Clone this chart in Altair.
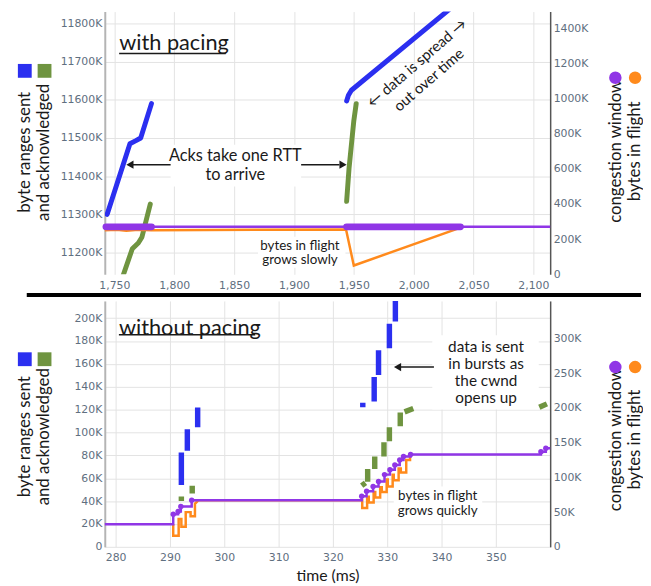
import altair as alt
import pandas as pd

BLUE = "#2b2ff0"
GREEN = "#6f9440"
PURPLE = "#9036e6"
ORANGE = "#ff8a1c"
GRID = "#e3e3e3"
LABEL = "#5f6f80"
INK = "#1a1a1a"

# ---------------- top panel: with pacing ----------------
top_x_domain = [1742, 2114]
top_x_ticks = [1750, 1800, 1850, 1900, 1950, 2000, 2050, 2100]
top_left_domain = [11143, 11831]
top_left_ticks = [11200, 11300, 11400, 11500, 11600, 11700, 11800]
top_right_domain = [0, 1495]
top_right_ticks = [0, 200, 400, 600, 800, 1000, 1200, 1400]

top_sent_burst = [1, 1, 1, 1, 1, 2, 2, 2, 2]
top_sent_t = [1744, 1763, 1768, 1772, 1781, 1944, 1945.5, 1948, 2031]
top_sent_v = [11300, 11485, 11493, 11500, 11590, 11597, 11612, 11625, 11840]

top_ack_burst = [1, 1, 1, 1, 1, 2, 2, 2, 2]
top_ack_t = [1757, 1765, 1770, 1773, 1780, 1944, 1946, 1950, 1952]
top_ack_v = [11137, 11210, 11225, 11240, 11327, 11334, 11420, 11545, 11590]

top_cwnd_t = [1742, 2114]
top_cwnd_v = [270, 270]
top_cwnd_dense_t0 = [1743, 1944]
top_cwnd_dense_t1 = [1781, 2039]
top_cwnd_dense_v = [270, 270]

top_bif_t = [1742, 1752, 1760, 1770, 1781, 1943.5, 1950, 2038]
top_bif_v = [250, 254, 248, 253, 251, 255, 50, 263]

top_title = "with pacing"
top_title_t, top_title_v = 1754, 11748
top_underline = (1754, 1843, 11721)
top_note_text = ["Acks take one RTT", "to arrive"]
top_note_t = [1851, 1851]
top_note_v = [11453, 11402]
top_note2_text = ["bytes in flight", "grows slowly"]
top_note2_t = [1905, 1905]
top_note2_v = [11218, 11179]
top_spread_text = ["\u2190 data is spread \u2192", "out over time"]
top_spread_t = [2002.7, 2012.6]
top_spread_v = [11696, 11652]
top_box_t0 = [1797, 1870]
top_box_t1 = [1906, 1943]
top_box_v0 = [11373, 11160]
top_box_v1 = [11482, 11241]
top_arrow_t0 = [1797, 1906]
top_arrow_t1 = [1765, 1938]
top_arrow_v = [11430, 11430]
top_head_t = [1763, 1941]
top_head_shape = ["triangle-left", "triangle-right"]

# ---------------- bottom panel: without pacing ----------------
bot_x_domain = [278, 360]
bot_x_ticks = [280, 290, 300, 310, 320, 330, 340, 350]
bot_left_domain = [0, 215]
bot_left_ticks = [0, 20, 40, 60, 80, 100, 120, 140, 160, 180, 200]
bot_right_domain = [0, 354]
bot_right_ticks = [0, 50, 100, 150, 200, 250, 300]

bot_sent_t0 = [292.1, 293.2, 295.1, 325.5, 327.6, 328.4, 330.4, 331.5]
bot_sent_t1 = [292.1, 293.2, 295.1, 325.5, 327.6, 328.4, 330.4, 331.5]
bot_sent_v0 = [54, 84, 104.5, 122, 127, 150.3, 173.6, 197]
bot_sent_v1 = [82.6, 102.8, 121.8, 126, 148.5, 171.8, 195, 222]

bot_ack_t0 = [292.1, 294.1, 325.3, 326.4, 327.7, 329.4, 330.4, 332.4, 333.2, 358.0]
bot_ack_t1 = [292.1, 294.1, 326.0, 326.4, 327.7, 329.4, 330.4, 332.4, 334.8, 359.4]
bot_ack_v0 = [40, 46.6, 53.5, 57, 68, 79, 92.4, 105.4, 118, 122]
bot_ack_v1 = [44, 53.5, 56, 68, 79, 91.5, 104.5, 117.4, 121, 125]

bot_cwnd_t = [278, 290.6, 291.5, 292.0, 294.0, 325.3, 326.2, 327.4, 328.4, 329.5,
              330.5, 331.4, 332.3, 333.0, 334.3, 358.3, 359.2, 360]
bot_cwnd_v = [32.7, 47, 51, 58, 67, 73, 80, 87, 94, 104,
              111, 118, 125, 130, 133, 137, 142, 142]

bot_bif_t = [290.6, 290.6, 291.6, 291.6, 292.1, 292.1, 292.9, 292.9, 293.8, 293.8,
             294.6, 294.6, 295.2,
             325.4, 325.4, 326.3, 326.3, 326.6, 326.6, 327.5, 327.5, 327.8, 327.8,
             328.7, 328.7, 329.0, 329.0, 329.9, 329.9, 330.1, 330.1, 331.0, 331.0,
             331.2, 331.2, 332.1, 332.1, 332.5, 332.5, 333.5, 333.5, 334.2, 334.2]
bot_bif_v = [33, 16, 16, 40, 40, 29, 29, 50, 50, 44,
             44, 62, 67,
             67, 56, 56, 72, 72, 64, 64, 79, 79, 71,
             71, 86, 86, 79, 79, 97, 97, 87, 87, 104,
             104, 96, 96, 113, 113, 107, 107, 125, 125, 133]

bot_title = "without pacing"
bot_title_t, bot_title_v = 280.6, 191.7
bot_underline = (280.6, 305.7, 185.4)
bot_note_text = ["data is sent", "in bursts as", "the cwnd", "opens up"]
bot_note_t = [348.2, 348.2, 348.2, 348.2]
bot_note_v = [174.4, 159.8, 145, 130.4]
bot_note2_text = ["bytes in flight", "grows quickly"]
bot_note2_t = [339.3, 339.3]
bot_note2_v = [44, 31]
bot_box_t0 = [338.3, 331.2]
bot_box_t1 = [357.9, 347.5]
bot_box_v0 = [120, 24.2]
bot_box_v1 = [185, 52.7]
bot_arrow_t0 = [338.6]
bot_arrow_t1 = [332.4]
bot_arrow_v = [157.2]
bot_head_t = [331.9]
bot_head_shape = ["triangle-left"]

LEFT_TITLE = ["byte ranges sent", "and acknowledged"]
RIGHT_TITLE = ["congestion window", "bytes in flight"]
W = 451


def xenc(domain, ticks, title, field="t"):
    kw = dict(values=ticks, format=",.0f", grid=True, gridColor=GRID, domain=False, ticks=False,
              labelFont="DejaVu Sans", labelFontSize=11, labelColor=LABEL, labelPadding=5)
    if title:
        kw.update(title=title, titleFont="Lato", titleFontSize=16, titleFontWeight="normal",
                  titleColor=INK, titlePadding=5)
    else:
        kw.update(title=None)
    return alt.X(f"{field}:Q", scale=alt.Scale(domain=domain, nice=False, zero=False),
                 axis=alt.Axis(**kw))


def yleft(domain, ticks, ty):
    return alt.Y("v:Q", scale=alt.Scale(domain=domain, nice=False, zero=False),
                 axis=alt.Axis(orient="left", values=ticks,
                               labelExpr="datum.value == 0 ? '0' : datum.value + 'K'",
                               grid=True, gridColor=GRID, domainColor="#b4b4b4", domainWidth=2,
                               ticks=False, labelFont="DejaVu Sans", labelFontSize=11,
                               labelColor=LABEL, labelPadding=3, title=LEFT_TITLE,
                               titleFont="Lato", titleFontSize=17, titleFontWeight="normal",
                               titleColor=INK, titleAngle=270, titleX=-81, titleY=ty,
                               titleAlign="center", titleBaseline="middle", titleLineHeight=19))


def yright(domain, ticks, ty):
    return alt.Y("v:Q", scale=alt.Scale(domain=domain, nice=False, zero=False),
                 axis=alt.Axis(orient="right", values=ticks,
                               labelExpr="datum.value == 0 ? '0' : datum.value + 'K'",
                               grid=False, domainColor="#555555", domainWidth=1.5,
                               ticks=False, labelFont="DejaVu Sans", labelFontSize=11,
                               labelColor=LABEL, labelPadding=3, title=RIGHT_TITLE,
                               titleFont="Lato", titleFontSize=17, titleFontWeight="normal",
                               titleColor=INK, titleAngle=270, titleX=66, titleY=ty,
                               titleAlign="center", titleBaseline="middle", titleLineHeight=19))


one = pd.DataFrame({"k": [0]})


def legend_marks(sq_y, ci_y):
    s1 = alt.Chart(one).mark_square(size=196, color=BLUE, opacity=1).encode(
        x=alt.value(-81), y=alt.value(sq_y))
    s2 = alt.Chart(one).mark_square(size=196, color=GREEN, opacity=1).encode(
        x=alt.value(-61), y=alt.value(sq_y))
    c1 = alt.Chart(one).mark_circle(size=160, color=PURPLE, opacity=1).encode(
        x=alt.value(W + 66), y=alt.value(ci_y))
    c2 = alt.Chart(one).mark_circle(size=160, color=ORANGE, opacity=1).encode(
        x=alt.value(W + 86), y=alt.value(ci_y))
    return [s1, s2, c1, c2]


def annotations(X, YL, title, title_t, title_v, underline, boxes, notes, arrows, heads):
    layers = []
    bt0, bt1, bv0, bv1 = boxes
    box_df = pd.DataFrame({"t": bt0, "t2": bt1, "v": bv0, "v2": bv1})
    layers.append(alt.Chart(box_df).mark_rect(color="white").encode(
        x=X, x2="t2:Q", y=YL, y2="v2:Q"))
    tdf = pd.DataFrame({"t": [title_t], "v": [title_v], "label": [title]})
    layers.append(alt.Chart(tdf).mark_text(font="Lato", fontSize=22, color=INK, align="left",
                                           baseline="middle").encode(x=X, y=YL, text="label:N"))
    udf = pd.DataFrame({"t": [underline[0]], "t2": [underline[1]], "v": [underline[2]]})
    layers.append(alt.Chart(udf).mark_rule(color=INK, strokeWidth=1.5).encode(
        x=X, x2="t2:Q", y=YL))
    for texts, ts, vs, size, angle in notes:
        ndf = pd.DataFrame({"t": ts, "v": vs, "label": texts})
        layers.append(alt.Chart(ndf).mark_text(font="Lato", fontSize=size, color=INK,
                                               align="center", baseline="middle",
                                               angle=angle).encode(x=X, y=YL, text="label:N"))
    at0, at1, av = arrows
    adf = pd.DataFrame({"t": at0, "t2": at1, "v": av})
    layers.append(alt.Chart(adf).mark_rule(color=INK, strokeWidth=1.5).encode(
        x=X, x2="t2:Q", y=YL))
    ht, hv, hs = heads
    hdf = pd.DataFrame({"t": ht, "v": hv, "shape": hs})
    layers.append(alt.Chart(hdf).mark_point(filled=True, color=INK, size=70, opacity=1).encode(
        x=X, y=YL, shape=alt.Shape("shape:N", scale=None)))
    return layers


# ---------------- build top ----------------
Xt = xenc(top_x_domain, top_x_ticks, None)
Xt2 = alt.X2("t2:Q")
YLt = yleft(top_left_domain, top_left_ticks, 142)
YRt = yright(top_right_domain, top_right_ticks, 141)

top_sent = pd.DataFrame({"t": top_sent_t, "v": top_sent_v, "b": top_sent_burst,
                         "i": range(len(top_sent_t))})
top_ack = pd.DataFrame({"t": top_ack_t, "v": top_ack_v, "b": top_ack_burst,
                        "i": range(len(top_ack_t))})

top_left = alt.layer(
    *annotations(Xt, YLt, top_title, top_title_t, top_title_v, top_underline,
                 (top_box_t0, top_box_t1, top_box_v0, top_box_v1),
                 [(top_note_text, top_note_t, top_note_v, 16.5, 0),
                  (top_note2_text, top_note2_t, top_note2_v, 13.5, 0),
                  (top_spread_text, top_spread_t, top_spread_v, 15, 319)],
                 (top_arrow_t0, top_arrow_t1, top_arrow_v),
                 (top_head_t, top_arrow_v, top_head_shape)),
    alt.Chart(top_sent).mark_line(color=BLUE, strokeWidth=5, strokeCap="round",
                                  strokeJoin="round", clip=True).encode(
        x=Xt, y=YLt, detail="b:N", order="i:Q"),
    alt.Chart(top_ack).mark_line(color=GREEN, strokeWidth=5, strokeCap="round",
                                 strokeJoin="round", clip=True).encode(
        x=Xt, y=YLt, detail="b:N", order="i:Q"),
    *legend_marks(60, 67),
)

top_bif = pd.DataFrame({"t": top_bif_t, "v": top_bif_v, "i": range(len(top_bif_t))})
top_cwnd = pd.DataFrame({"t": top_cwnd_t, "v": top_cwnd_v})
top_dense = pd.DataFrame({"t": top_cwnd_dense_t0, "t2": top_cwnd_dense_t1, "v": top_cwnd_dense_v})

top_right = alt.layer(
    alt.Chart(top_bif).mark_line(color=ORANGE, strokeWidth=2.5).encode(x=Xt, y=YRt, order="i:Q"),
    alt.Chart(top_cwnd).mark_line(color=PURPLE, strokeWidth=2.5).encode(x=Xt, y=YRt),
    alt.Chart(top_dense).mark_rule(color=PURPLE, strokeWidth=7, strokeCap="round").encode(
        x=Xt, x2=Xt2, y=YRt),
)

top = alt.layer(top_left, top_right).resolve_scale(y="independent").properties(
    width=W, height=266)

# ---------------- build bottom ----------------
Xb = xenc(bot_x_domain, bot_x_ticks, "time (ms)")
YLb = yleft(bot_left_domain, bot_left_ticks, 137)
YRb = yright(bot_right_domain, bot_right_ticks, 140)

bot_sent = pd.DataFrame({"t": bot_sent_t0, "t2": bot_sent_t1, "v": bot_sent_v0, "v2": bot_sent_v1})
bot_ack = pd.DataFrame({"t": bot_ack_t0, "t2": bot_ack_t1, "v": bot_ack_v0, "v2": bot_ack_v1})

separator = alt.Chart(one).mark_rule(color="black", strokeWidth=4).encode(
    x=alt.value(-79), x2=alt.value(543), y=alt.value(-6))

bot_left = alt.layer(
    *annotations(Xb, YLb, bot_title, bot_title_t, bot_title_v, bot_underline,
                 (bot_box_t0, bot_box_t1, bot_box_v0, bot_box_v1),
                 [(bot_note_text, bot_note_t, bot_note_v, 15.5, 0),
                  (bot_note2_text, bot_note2_t, bot_note2_v, 13.5, 0)],
                 (bot_arrow_t0, bot_arrow_t1, bot_arrow_v),
                 (bot_head_t, bot_arrow_v, bot_head_shape)),
    alt.Chart(bot_sent).mark_rule(color=BLUE, strokeWidth=5.5, clip=True).encode(
        x=Xb, x2="t2:Q", y=YLb, y2="v2:Q"),
    alt.Chart(bot_ack).mark_rule(color=GREEN, strokeWidth=5.5, clip=True).encode(
        x=Xb, x2="t2:Q", y=YLb, y2="v2:Q"),
    *legend_marks(59, 67),
    separator,
)

bot_bif = pd.DataFrame({"t": bot_bif_t, "v": bot_bif_v, "i": range(len(bot_bif_t))})
bot_cwnd = pd.DataFrame({"t": bot_cwnd_t, "v": bot_cwnd_v})
bot_marks = bot_cwnd.iloc[1:-1]

bot_right = alt.layer(
    alt.Chart(bot_bif).mark_line(color=ORANGE, strokeWidth=2.5).encode(x=Xb, y=YRb, order="i:Q"),
    alt.Chart(bot_cwnd).mark_line(color=PURPLE, strokeWidth=2.5, interpolate="step-after").encode(
        x=Xb, y=YRb),
    alt.Chart(bot_marks).mark_circle(color=PURPLE, size=30, opacity=1).encode(x=Xb, y=YRb),
)

bottom = alt.layer(bot_left, bot_right).resolve_scale(y="independent").properties(
    width=W, height=249)

chart = alt.vconcat(top, bottom, spacing=3).properties(
    padding={"left": 8, "top": 0, "right": 0, "bottom": 0},
    background="white",
).configure_view(stroke=None)

chart.save("out.html", embed_options={"renderer": "svg", "actions": False})
